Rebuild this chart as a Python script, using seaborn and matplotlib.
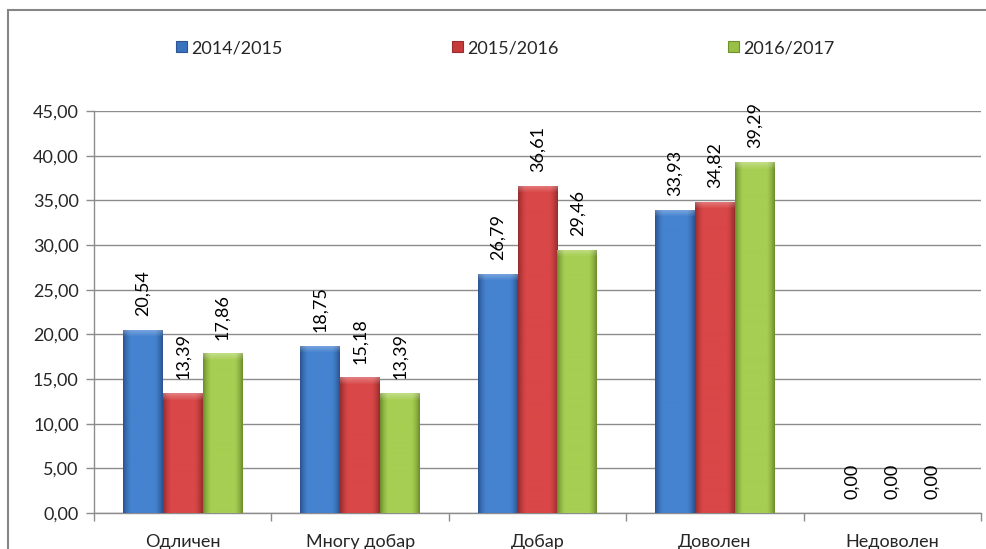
import numpy as np
import pandas as pd
import matplotlib
matplotlib.use('Agg')
import matplotlib.pyplot as plt
import matplotlib.colors as mcolors
from matplotlib.patches import Patch, Rectangle
from matplotlib.ticker import FuncFormatter, FixedLocator
import seaborn as sns

# Data
categories = ['Одличен', 'Многу добар', 'Добар', 'Доволен', 'Недоволен']
years = ['2014/2015', '2015/2016', '2016/2017']
vals_2014 = [20.54, 18.75, 26.79, 33.93, 0.00]
vals_2015 = [13.39, 15.18, 36.61, 34.82, 0.00]
vals_2016 = [17.86, 13.39, 29.46, 39.29, 0.00]

df = pd.DataFrame({
    'cat': categories * 3,
    'year': [years[0]] * 5 + [years[1]] * 5 + [years[2]] * 5,
    'val': vals_2014 + vals_2015 + vals_2016,
})

# base / light / dark shades for each series (Excel-like bevel look)
base = {'2014/2015': '#3A72BE', '2015/2016': '#C63A3B', '2016/2017': '#98C045'}
light = {'2014/2015': '#4583D0', '2015/2016': '#D94748', '2016/2017': '#A6CE52'}
dark = {'2014/2015': '#2B5592', '2015/2016': '#992C2D', '2016/2017': '#6F8F2E'}

sns.set_style('white')
plt.rcParams['font.family'] = ['Lato', 'DejaVu Sans']

fig = plt.figure(figsize=(9.86, 5.49), dpi=100)
ax = fig.add_axes([94 / 986, 1 - 513 / 549, (981 - 94) / 986, (513 - 111) / 549])

sns.barplot(data=df, x='cat', y='val', hue='year', palette=base, order=categories,
            hue_order=years, width=0.675, gap=0, errorbar=None, legend=False,
            saturation=1, ax=ax, zorder=3, edgecolor='none')

ax.set_ylim(0, 45)
ax.set_xlim(-0.5, 4.5)

# gradient fill clipped to each bar
ppu = (513 - 111) / 45.0
for cont, yr in zip(ax.containers, years):
    c_l = np.array(mcolors.to_rgb(light[yr]))
    c_d = np.array(mcolors.to_rgb(dark[yr]))
    for p in cont:
        h = p.get_height()
        if h <= 0:
            continue
        x0 = p.get_x()
        w = p.get_width()
        nrow = max(int(h * ppu), 2)
        ncol = 40
        t = np.linspace(0, 1, ncol)
        prof = 1 - np.abs(2 * t - 1) ** 3
        prof = np.clip(prof * 1.3, 0, 1)
        # darker rim at the sides
        prof[0] *= 0.4
        prof[-1] *= 0.4
        img = np.zeros((nrow, ncol, 3))
        for k in range(3):
            img[:, :, k] = c_d[k] + (c_l[k] - c_d[k]) * prof[None, :]
        # lighter bevel at the top
        bev = min(7, nrow // 2)
        for r in range(bev):
            f = 0.3 * (1 - r / bev)
            img[r] = img[r] + (1 - img[r]) * f
        im = ax.imshow(img, extent=(x0, x0 + w, 0, h), aspect='auto', zorder=4,
                       interpolation='bilinear')
        im.set_clip_path(p)
    ax.bar_label(cont, labels=[f'{v:.2f}'.replace('.', ',') for v in cont.datavalues],
                 rotation=90, padding=10, fontsize=13, color='black', zorder=5)

ax.set_ylim(0, 45)
ax.set_xlim(-0.5, 4.5)

ax.set_yticks(np.arange(0, 46, 5))
ax.yaxis.set_major_formatter(FuncFormatter(lambda v, _: f'{v:.2f}'.replace('.', ',')))
ax.grid(axis='y', color='#8C8C8C', linewidth=1, zorder=0)
ax.set_axisbelow(True)

ax.xaxis.set_minor_locator(FixedLocator(np.arange(-0.5, 5, 1)))
ax.tick_params(axis='x', which='major', length=0, pad=15, labelsize=13)
ax.tick_params(axis='x', which='minor', length=6, width=1, color='#8C8C8C', direction='out', bottom=True)
ax.tick_params(axis='y', length=6, width=1, color='#8C8C8C', direction='out', left=True, pad=5, labelsize=13)
ax.set_xlabel('')
ax.set_ylabel('')

for s in ['top', 'right']:
    ax.spines[s].set_visible(False)
for s in ['left', 'bottom']:
    ax.spines[s].set_color('#8C8C8C')
    ax.spines[s].set_linewidth(1)

# legend entries, one per series, evenly spaced along the top
leg_x = [176, 452, 728]
for yr, lx in zip(years, leg_x):
    fig.legend(handles=[Patch(facecolor=base[yr], edgecolor=dark[yr], linewidth=0.8, label=yr)],
               loc='center left', bbox_to_anchor=(lx / 986, 1 - 48 / 549), frameon=False,
               handlelength=0.6, handleheight=0.6, handletextpad=0.25, borderpad=0,
               borderaxespad=0, fontsize=13)

# outer chart border (cropped at right and bottom)
fig.patches.append(Rectangle((8 / 986, -0.1), 2.0, 1.1 - 10 / 549, transform=fig.transFigure,
                             fill=False, edgecolor='#868686', linewidth=1.5))

fig.savefig('out.png', dpi=100)
